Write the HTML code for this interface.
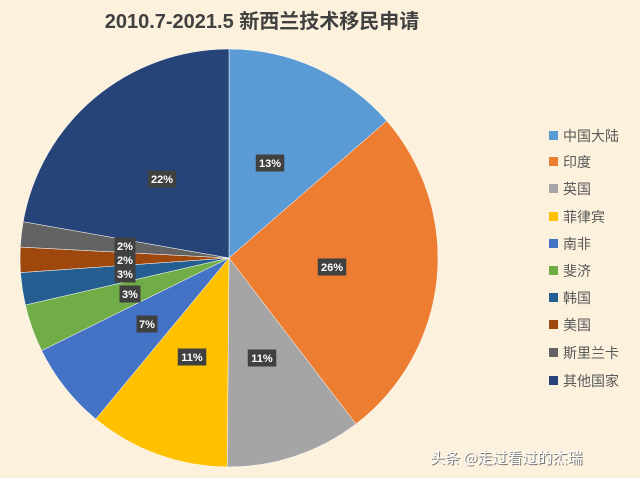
<!DOCTYPE html><html><head><meta charset="utf-8"><style>
body{margin:0;width:640px;height:478px;background:#fbf1dc;overflow:hidden;font-family:"Liberation Sans","Noto Sans CJK SC",sans-serif}
</style></head><body>
<svg width="640" height="478" xmlns="http://www.w3.org/2000/svg" style="position:absolute;left:0;top:0">
<text x="262" y="28" text-anchor="middle" font-size="20" font-weight="bold" fill="#404040" font-family="Liberation Sans,Noto Sans CJK SC,sans-serif">2010.7-2021.5 新西兰技术移民申请</text>
<g id="pie"></g>
<g font-family="Liberation Sans,Noto Sans CJK SC,sans-serif" font-size="14" fill="#595959" id="leg"></g>
<text x="431" y="464" font-size="15" fill="#777" font-family="Noto Sans CJK SC,sans-serif">头条 @走过看过的杰瑞</text>
<text x="430" y="463" font-size="15" fill="#fff" font-family="Noto Sans CJK SC,sans-serif">头条 @走过看过的杰瑞</text>
</svg>
<script>
var cx=229,cy=258,r=209;
var b=[0,49,142.6,180.5,219.6,243.7,257,266,273,280,360];
var col=["#5b9bd5","#ed7d31","#a5a5a5","#ffc000","#4472c4","#70ad47","#255e91","#9e480e","#636363","#264478"];
var names=["中国大陆","印度","英国","菲律宾","南非","斐济","韩国","美国","斯里兰卡","其他国家"];
var labs=[["13%",270,163],["26%",332,267],["11%",262,358],["11%",192,357],["7%",147,324],["3%",130,294],["3%",125,274],["2%",125,260],["2%",125,246],["22%",162,179]];
function p(a){a=a*Math.PI/180;return [cx+r*Math.sin(a),cy-r*Math.cos(a)];}
var s="";
for(var i=0;i<10;i++){var A=p(b[i]),B=p(b[i+1]);var l=b[i+1]-b[i]>180?1:0;
s+='<path d="M'+cx+','+cy+'L'+A[0]+','+A[1]+'A'+r+','+r+' 0 '+l+' 1 '+B[0]+','+B[1]+'Z" fill="'+col[i]+'" stroke="#fff" stroke-width="0.5"/>';}
labs.forEach(function(t){var w=t[0].length*7.5+6;s+='<rect x="'+(t[1]-w/2)+'" y="'+(t[2]-8.5)+'" width="'+w+'" height="17" fill="#404040"/><text x="'+t[1]+'" y="'+(t[2]+4)+'" text-anchor="middle" font-size="11" font-weight="bold" fill="#fff" font-family="Liberation Sans,sans-serif">'+t[0]+'</text>';});
document.getElementById("pie").innerHTML=s;
var ys=[135,161,188,216,243,270,297,324,352,380],g="";
for(var i=0;i<10;i++){g+='<rect x="549" y="'+(ys[i]-4)+'" width="9" height="9" fill="'+col[i]+'"/><text x="563" y="'+(ys[i]+6)+'">'+names[i]+'</text>';}
document.getElementById("leg").innerHTML=g;
</script>
</body></html>
